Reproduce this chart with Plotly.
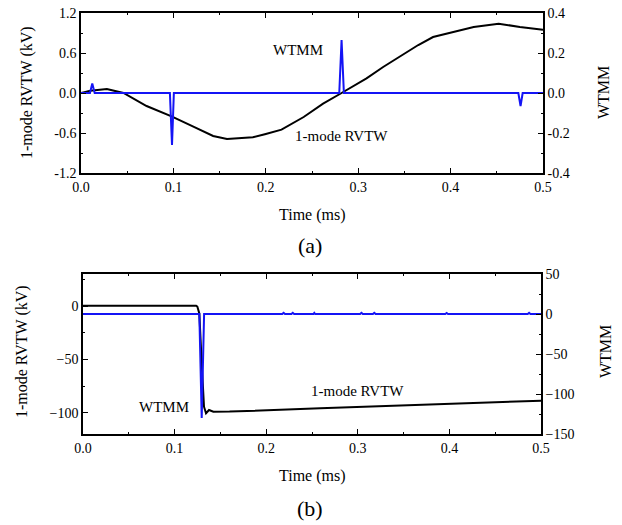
import plotly.graph_objects as go

# ---------------- data: panel (a) ----------------
t_a_rvtw = [0, 0.01, 0.028, 0.046, 0.071, 0.098, 0.1216, 0.143, 0.158, 0.17, 0.186, 0.2,
            0.217, 0.241, 0.262, 0.282, 0.309, 0.327, 0.345, 0.365, 0.381, 0.403, 0.425,
            0.452, 0.475, 0.5]
v_a_rvtw = [0, 0.035, 0.06, 0.0, -0.195, -0.35, -0.505, -0.645, -0.69, -0.68, -0.665, -0.615,
            -0.55, -0.36, -0.16, 0.0, 0.22, 0.39, 0.55, 0.72, 0.84, 0.92, 0.99,
            1.04, 0.99, 0.95]

t_a_wtmm = [0, 0.0097, 0.0122, 0.0148, 0.0962, 0.0985, 0.1005, 0.2795, 0.282, 0.2845,
            0.4733, 0.4757, 0.478, 0.5]
v_a_wtmm = [0, 0, 0.048, 0, 0, -0.26, 0, 0, 0.265, 0, 0, -0.065, 0, 0]

# ---------------- data: panel (b) ----------------
t_b_rvtw = [0, 0.1, 0.1235, 0.1248, 0.127, 0.1296, 0.1321, 0.1343, 0.1376, 0.1423, 0.16,
            0.259, 0.5]
v_b_rvtw = [0.2, 0.3, 0.3, -0.5, -6.9, -53.7, -94.4, -100.5, -97.5, -99.1, -99,
            -95.9, -88.8]

t_b_wtmm = [0, 0.127, 0.1296, 0.1322, 0.2175, 0.219, 0.2205, 0.2275, 0.229, 0.2305,
            0.2515, 0.2525, 0.2535, 0.3025, 0.304, 0.3055, 0.3165, 0.318, 0.3195,
            0.3955, 0.397, 0.3985, 0.4855, 0.487, 0.4885, 0.5]
v_b_wtmm = [0, 0, -130, 0, 0, 1.5, 0, 0, 1.5, 0,
            0, 1.5, 0, 0, 1.5, 0, 0, 1.5, 0,
            0, 1.2, 0, 0, 1.5, 0, 0]

x_ticks = [0.0, 0.1, 0.2, 0.3, 0.4, 0.5]
x_labels = ["0.0", "0.1", "0.2", "0.3", "0.4", "0.5"]
ya_left_ticks = [-1.2, -0.6, 0.0, 0.6, 1.2]
ya_left_labels = ["-1.2", "-0.6", "0.0", "0.6", "1.2"]
ya_right_ticks = [-0.4, -0.2, 0.0, 0.2, 0.4]
ya_right_labels = ["-0.4", "-0.2", "0.0", "0.2", "0.4"]
yb_left_ticks = [-100, -50, 0]
yb_right_ticks = [-150, -100, -50, 0, 50]

FONT = "Liberation Serif, Times New Roman, serif"
BLACK = "#000000"
BLUE = "#1414f5"

fig = go.Figure()
fig.add_trace(go.Scatter(x=t_a_rvtw, y=v_a_rvtw, mode="lines", line=dict(color=BLACK, width=2),
                         xaxis="x", yaxis="y", showlegend=False))
fig.add_trace(go.Scatter(x=t_a_wtmm, y=v_a_wtmm, mode="lines", line=dict(color=BLUE, width=2),
                         xaxis="x", yaxis="y2", showlegend=False))
fig.add_trace(go.Scatter(x=t_b_rvtw, y=v_b_rvtw, mode="lines", line=dict(color=BLACK, width=2),
                         xaxis="x2", yaxis="y3", showlegend=False))
fig.add_trace(go.Scatter(x=t_b_wtmm, y=v_b_wtmm, mode="lines", line=dict(color=BLUE, width=2),
                         xaxis="x2", yaxis="y4", showlegend=False))

W, H = 622, 525
def px_x(p):
    return p / W
def px_y(p):
    return 1 - p / H

tickfont = dict(family=FONT, size=14, color="black")
common_x = dict(range=[0, 0.5], tickvals=x_ticks, ticktext=x_labels, ticks="inside", ticklen=5,
                tickwidth=1, tickcolor="black", showline=True, linecolor="black", linewidth=1.5,
                mirror="ticks", showgrid=False, zeroline=False, tickfont=tickfont, automargin=False,
                minor=dict(ticks="inside", ticklen=2, tickcolor="black", dtick=0.05, showgrid=False))
common_y = dict(ticks="inside", ticklen=5, tickwidth=1, tickcolor="black", showline=True,
                linecolor="black", linewidth=1.5, showgrid=False, zeroline=False, tickfont=tickfont,
                automargin=False)

fig.update_layout(
    width=W, height=H, margin=dict(l=0, r=0, t=0, b=0, autoexpand=False),
    paper_bgcolor="white", plot_bgcolor="white",
    xaxis=dict(domain=[px_x(81), px_x(543)], anchor="y", **common_x),
    yaxis=dict(domain=[px_y(173), px_y(13)], anchor="x", range=[-1.2, 1.2],
               tickvals=ya_left_ticks, ticktext=ya_left_labels,
               minor=dict(ticks="inside", ticklen=2, tickcolor="black", dtick=0.3), **common_y),
    yaxis2=dict(overlaying="y", side="right", anchor="x", range=[-0.4, 0.4],
                tickvals=ya_right_ticks, ticktext=ya_right_labels,
                minor=dict(ticks="inside", ticklen=2, tickcolor="black", dtick=0.1), **common_y),
    xaxis2=dict(domain=[px_x(83), px_x(541)], anchor="y3", **common_x),
    yaxis3=dict(domain=[px_y(434), px_y(274)], anchor="x2", range=[-120, 30],
                tickvals=yb_left_ticks,
                minor=dict(ticks="inside", ticklen=2, tickcolor="black", dtick=25), **common_y),
    yaxis4=dict(overlaying="y3", side="right", anchor="x2", range=[-150, 50],
                tickvals=yb_right_ticks,
                minor=dict(ticks="inside", ticklen=2, tickcolor="black", dtick=25), **common_y),
)

def ann(text, x, y, size=16, angle=0, xref="paper", yref="paper"):
    fig.add_annotation(text=text, x=x, y=y, xref=xref, yref=yref, showarrow=False,
                       textangle=angle, font=dict(family=FONT, size=size, color="black"),
                       xanchor="center", yanchor="middle")

# axis titles and panel labels (pixel positions in the reference)
ann("1-mode RVTW (kV)", px_x(27), px_y(93), angle=-90)
ann("WTMM", px_x(603), px_y(93), angle=-90)
ann("Time (ms)", px_x(312), px_y(215))
ann("(a)", px_x(310), px_y(245), size=22)

ann("1-mode RVTW (kV)", px_x(22), px_y(352), angle=-90)
ann("WTMM", px_x(605), px_y(352), angle=-90)
ann("Time (ms)", px_x(312), px_y(476))
ann("(b)", px_x(310), px_y(508), size=22)

# in-plot labels
ann("WTMM", px_x(298), px_y(50), size=15)
ann("1-mode RVTW", px_x(342), px_y(136), size=15)
ann("WTMM", px_x(164), px_y(407), size=15)
ann("1-mode RVTW", px_x(357), px_y(391), size=15)

# remove the page's default 8 px body margin so the figure fills the window exactly
fig.write_html("out.html",
               config={"displayModeBar": False},
               post_script="document.body.style.margin='0';document.body.style.overflow='hidden';")
